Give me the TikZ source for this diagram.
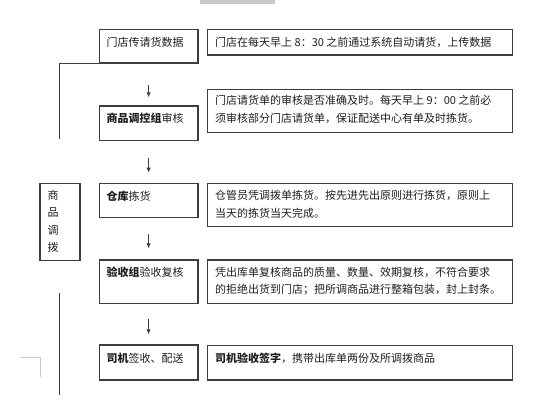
\documentclass[tikz,border=0pt]{standalone}
\usepackage{fontspec}
\setmainfont{Noto Sans CJK SC}
\usetikzlibrary{arrows.meta}
\definecolor{lc}{HTML}{3C3C3C}
\definecolor{tc}{HTML}{1E1E1E}
\definecolor{gr}{HTML}{C8C8C8}
\begin{document}
\begin{tikzpicture}[x=1pt,y=-1pt,
  box/.style={draw=lc,line width=1.2pt,rectangle,inner sep=0pt,anchor=north west},
  txt/.style={text=tc,font=\fontsize{11}{17.5}\selectfont,inner sep=0pt,anchor=west,align=left},
  arr/.style={draw=lc,line width=1pt,-{Latex[length=5pt,width=4.5pt]}},
  ln/.style={draw=lc,line width=1.2pt}]
\useasboundingbox (0,0) rectangle (541,400);
\fill[gr] (200,0) rectangle (275,3.5);
% left boxes
\node[box,minimum width=98.6pt,minimum height=33.3pt] (L1) at (98.7,29) {};
\node[box,minimum width=98.6pt,minimum height=34.4pt] (L2) at (98.7,105.3) {};
\node[box,minimum width=98.6pt,minimum height=34pt] (L3) at (98.7,182.7) {};
\node[box,minimum width=98.6pt,minimum height=43.4pt] (L4) at (98.7,259.3) {};
\node[box,minimum width=98.6pt,minimum height=35pt] (L5) at (98.7,344.3) {};
% right boxes
\node[box,minimum width=305pt,minimum height=25.3pt] (R1) at (206.7,29) {};
\node[box,minimum width=305pt,minimum height=42.7pt] (R2) at (206.7,89) {};
\node[box,minimum width=305pt,minimum height=43pt] (R3) at (206.7,182.7) {};
\node[box,minimum width=305pt,minimum height=43.4pt] (R4) at (206.7,259.3) {};
\node[box,minimum width=305pt,minimum height=34.3pt] (R5) at (206.7,345) {};
% side box
\node[box,minimum width=40pt,minimum height=77.3pt] (S) at (39.3,182.7) {};
% left texts
\node[txt] (t1) at (106.5,42.5) {门店传请货数据};
\node[txt] (t2) at (106.5,118.5) {\textbf{商品调控组}审核};
\node[txt] (t3) at (106.5,196) {\textbf{仓库}拣货};
\node[txt] (t4) at (106.5,272) {\textbf{验收组}验收复核};
\node[txt] (t5) at (106.5,358) {\textbf{司机}签收、配送};
% right texts
\node[txt] (r1) at (215,42.5) {门店在每天早上 8：30 之前通过系统自动请货，上传数据};
\node[txt] (r2) at (215,109.5) {门店请货单的审核是否准确及时。每天早上 9：00 之前必\\须审核部分门店请货单，保证配送中心有单及时拣货。};
\node[txt] (r3) at (215,204.5) {仓管员凭调拨单拣货。按先进先出原则进行拣货，原则上\\当天的拣货当天完成。};
\node[txt] (r4) at (215,281) {凭出库单复核商品的质量、数量、效期复核，不符合要求\\的拒绝出货到门店；把所调商品进行整箱包装，封上封条。};
\node[txt] (r5) at (215,358) {\textbf{司机验收签字}，携带出库单两份及所调拨商品};
% side text
\node[txt,anchor=center,align=center] (st) at (53,221.5) {商\\品\\调\\拨};
% arrows
\draw[arr,shorten <=21pt,shorten >=8pt] (L1.south) -- (L2.north);
\draw[arr,shorten <=17pt,shorten >=10pt] (L2.south) -- (L3.north);
\draw[arr,shorten <=16pt,shorten >=11pt] (L3.south) -- (L4.north);
\draw[arr,shorten <=15pt,shorten >=10pt] (L4.south) -- (L5.north);
% bracket lines
\coordinate (b1) at (59.3,139.3);
\draw[ln] (L1.south west) -| (b1);
\coordinate (v1) at (59.3,293.3);
\coordinate (v2) at (59.3,395);
\draw[ln] (v1) -- (v2);
% faint corner mark
\coordinate (c1) at (20,357.7);
\coordinate (c2) at (40,357.7);
\coordinate (c3) at (40,376.5);
\draw[gr,line width=1pt] (c1) -- (c2) -- (c3);
\end{tikzpicture}
\end{document}
